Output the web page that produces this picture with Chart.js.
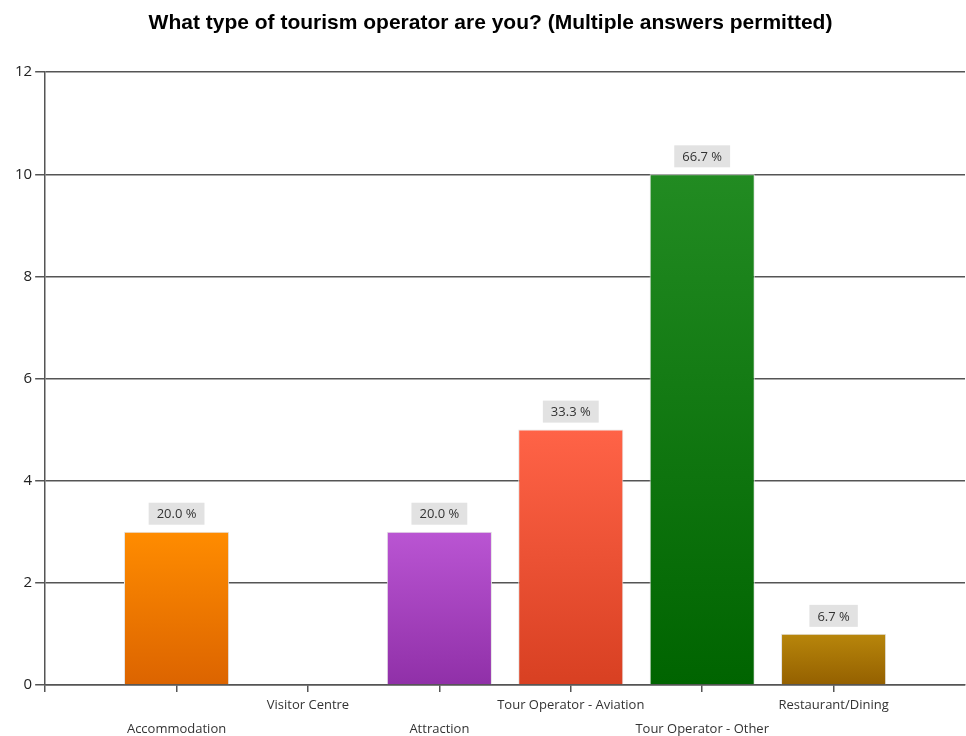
<!DOCTYPE html>
<html>
<head>
<meta charset="utf-8">
<title>Tourism operator survey</title>
<script src="https://cdn.jsdelivr.net/npm/chart.js@4.4.1/dist/chart.umd.min.js"></script>
<style>
    html, body { margin: 0; padding: 0; background: #fff; overflow: hidden; }
    #wrap { width: 966px; height: 736px; position: relative; }
</style>
</head>
<body>
<div id="wrap"><canvas id="chartCanvas"></canvas></div>
<script>
// Survey answers (count of respondents per operator type)
const categories = ['Accommodation', 'Visitor Centre', 'Attraction', 'Tour Operator - Aviation', 'Tour Operator - Other', 'Restaurant/Dining'];
const responses = [3, 0, 3, 5, 10, 1];
const totalRespondents = 15;

// Y axis range
const yMin = 0;
const yMax = 12;
const yStep = 2;

// Bar fills, top and bottom of the vertical gradient
const colorTop = ['#ff8c00', '#4682b4', '#ba55d3', '#ff6347', '#228b22', '#b8860b'];
const colorBottom = ['#dc6400', '#2f5f8f', '#9030a8', '#d84022', '#006400', '#946000'];

const FONT = '"Open Sans", "Segoe UI", Arial, sans-serif';

// Empty slot on each side so the bars sit one category in from the axes
const slotLabels = [''].concat(categories, ['']);
const slotValues = [null].concat(responses, [null]);

/**
 * Vertical gradient for each bar, from its top down to the zero line
 */
function barGradient(context) {
    const chart = context.chart;
    const area = chart.chartArea;
    const i = context.dataIndex - 1;
    if (!area || !chart.scales.y || i < 0 || i >= categories.length) {
        return 'transparent';
    }
    const top = chart.scales.y.getPixelForValue(responses[i]);
    const bottom = chart.scales.y.getPixelForValue(0);
    const g = chart.ctx.createLinearGradient(0, top, 0, bottom);
    g.addColorStop(0, colorTop[i]);
    g.addColorStop(1, colorBottom[i]);
    return g;
}

/**
 * Grey percentage tag above each bar
 */
const percentTags = {
    id: 'percentTags',
    afterDatasetsDraw(chart) {
        const ctx = chart.ctx;
        const meta = chart.getDatasetMeta(0);
        ctx.save();
        ctx.font = '13px ' + FONT;
        ctx.textAlign = 'center';
        ctx.textBaseline = 'middle';
        meta.data.forEach(function(bar, idx) {
            const v = slotValues[idx];
            if (!v) return;
            const text = (v / totalRespondents * 100).toFixed(1) + ' %';
            const w = ctx.measureText(text).width + 16;
            const h = 22;
            const bottom = bar.y - 7;
            ctx.fillStyle = '#e2e2e2';
            ctx.fillRect(bar.x - w / 2, bottom - h, w, h);
            ctx.fillStyle = '#333';
            ctx.fillText(text, bar.x, bottom - h / 2 + 1);
        });
        ctx.restore();
    }
};

const ctx = document.getElementById('chartCanvas').getContext('2d');

new Chart(ctx, {
    type: 'bar',
    data: {
        labels: slotLabels,
        datasets: [{
            label: 'Respondents',
            data: slotValues,
            backgroundColor: barGradient,
            borderColor: '#e4e4e4',
            borderWidth: 1,
            borderSkipped: 'bottom',
            categoryPercentage: 1,
            barPercentage: 0.8
        }]
    },
    options: {
        responsive: true,
        maintainAspectRatio: false,
        animation: false,
        layout: {
            padding: { left: 12, right: -3, top: 0, bottom: -6 }
        },
        plugins: {
            legend: { display: false },
            tooltip: { enabled: false },
            title: {
                display: true,
                text: 'What type of tourism operator are you? (Multiple answers permitted)',
                color: '#000',
                font: { family: 'Arial, "Liberation Sans", sans-serif', size: 21, weight: 'bold' },
                padding: { top: 11, bottom: 36 }
            }
        },
        scales: {
            x: {
                offset: false,
                grid: {
                    offset: false,
                    drawOnChartArea: false,
                    tickLength: 7,
                    lineWidth: 1.5,
                    color: function(c) {
                        return c.index === slotLabels.length - 1 ? 'transparent' : '#555';
                    }
                },
                border: { color: '#555', width: 1.5 },
                ticks: {
                    autoSkip: false,
                    maxRotation: 0,
                    padding: 1,
                    color: '#333',
                    font: { family: FONT, size: 13, lineHeight: 1.85 },
                    callback: function(value, index) {
                        const label = this.getLabelForValue(value);
                        if (!label) return '';
                        // stagger labels on two rows
                        return index % 2 === 1 ? ['', label] : label;
                    }
                }
            },
            y: {
                min: yMin,
                max: yMax,
                grid: {
                    color: '#555',
                    lineWidth: 1.5,
                    tickLength: 10
                },
                border: { color: '#555', width: 1.5 },
                ticks: {
                    stepSize: yStep,
                    padding: 3,
                    color: '#222',
                    font: { family: FONT, size: 15 }
                }
            }
        }
    },
    plugins: [percentTags]
});
</script>
</body>
</html>
